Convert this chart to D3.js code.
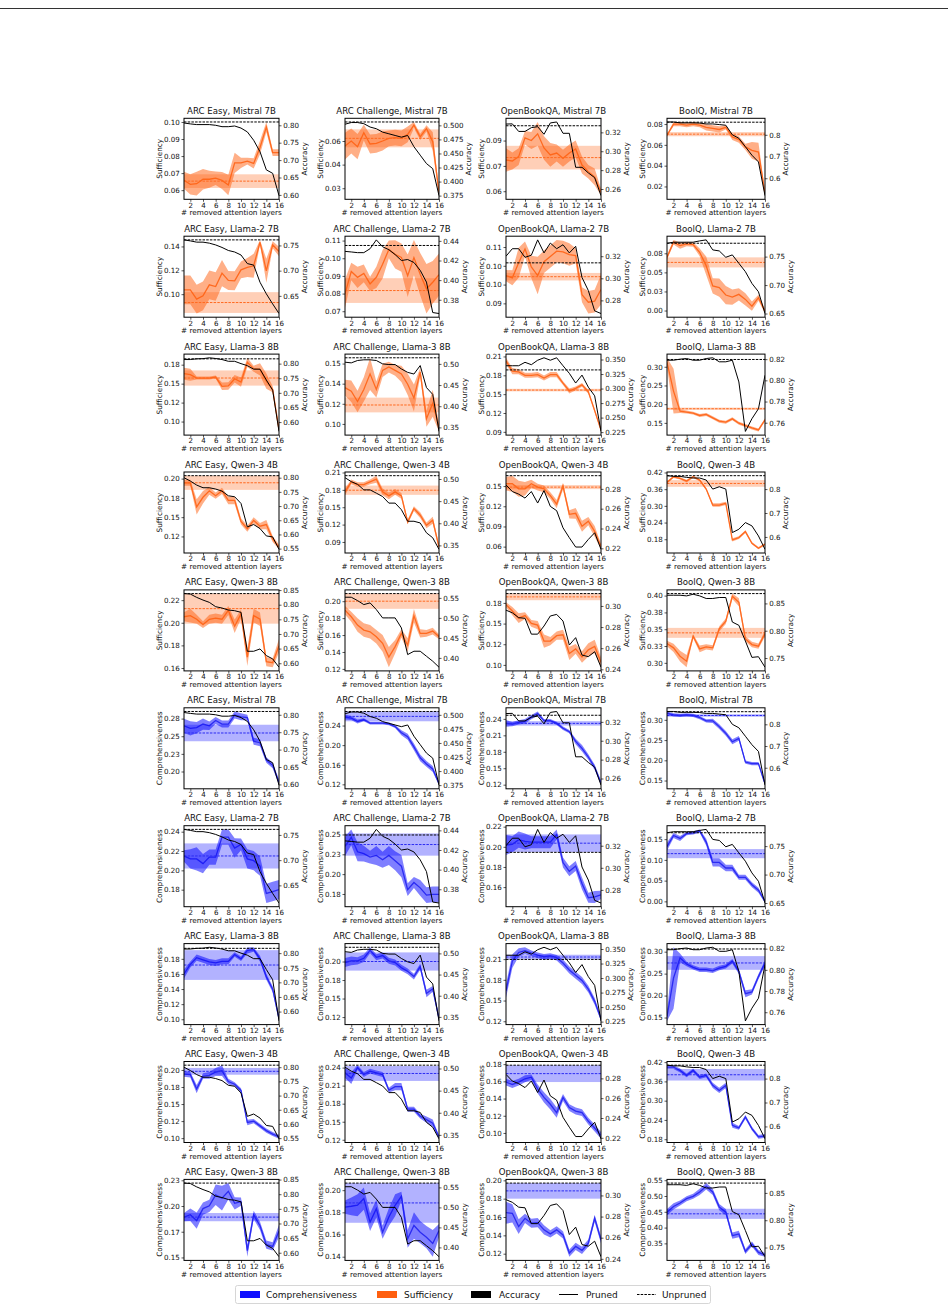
<!DOCTYPE html>
<html lang="en">
<head>
<meta charset="UTF-8">
<title>Pruned attention layers: sufficiency, comprehensiveness and accuracy</title>
<script src="https://d3js.org/d3.v7.min.js"></script>
<style>
  body { margin: 0; background: #fff; }
  svg { display: block; font-family: 'DejaVu Sans', sans-serif; }
  .tick text { font-family: 'DejaVu Sans', sans-serif; font-size: 7.1px; fill: #111; }
  .tick line { stroke: #111; stroke-width: 0.7; }
  .domain { display: none; }
  .title { font-size: 8.6px; fill: #111; text-anchor: middle; }
  .alabel { font-size: 7.3px; fill: #111; text-anchor: middle; }
  .legend text { font-size: 9px; fill: #111; }
</style>
</head>
<body>
<script>
const datasets = ["ARC Easy", "ARC Challenge", "OpenBookQA", "BoolQ"];
const models = ["Mistral 7B", "Llama-2 7B", "Llama-3 8B", "Qwen-3 4B", "Qwen-3 8B"];
const layers = d3.range(1, 17);
const xTicks = [2, 4, 6, 8, 10, 12, 14, 16];

// accuracy of the pruned model (one list per dataset) and of the unpruned model
const accMistral = [
  [0.8066, 0.804, 0.802, 0.802, 0.802, 0.80, 0.796, 0.796, 0.798, 0.792, 0.781, 0.757, 0.724, 0.672, 0.662, 0.598],
  [0.502, 0.505, 0.505, 0.503, 0.497, 0.494, 0.488, 0.485, 0.482, 0.479, 0.482, 0.462, 0.447, 0.432, 0.423, 0.375],
  [0.3288, 0.329, 0.321, 0.321, 0.325, 0.326, 0.318, 0.330, 0.331, 0.319, 0.319, 0.283, 0.283, 0.277, 0.272, 0.253],
  [0.859, 0.859, 0.855, 0.855, 0.855, 0.854, 0.850, 0.850, 0.847, 0.844, 0.80, 0.784, 0.745, 0.706, 0.675, 0.52]
];
const accLlama2 = [
  [0.761, 0.759, 0.7565, 0.7565, 0.7545, 0.751, 0.746, 0.740, 0.737, 0.731, 0.714, 0.711, 0.677, 0.654, 0.634, 0.615],
  [0.4293, 0.4287, 0.428, 0.428, 0.432, 0.441, 0.434, 0.431, 0.426, 0.42, 0.421, 0.418, 0.41, 0.398, 0.367, 0.366],
  [0.32, 0.3268, 0.3268, 0.319, 0.3209, 0.3348, 0.323, 0.3319, 0.3268, 0.3304, 0.323, 0.329, 0.3007, 0.2889, 0.2705, 0.2681],
  [0.7735, 0.7753, 0.7753, 0.7753, 0.7753, 0.7776, 0.7794, 0.7618, 0.76, 0.7488, 0.753, 0.7382, 0.7235, 0.7029, 0.6882, 0.65]
];
const accLlama3 = [
  [0.814, 0.814, 0.8164, 0.817, 0.82, 0.8175, 0.814, 0.808, 0.808, 0.80, 0.793, 0.781, 0.781, 0.744, 0.709, 0.568],
  [0.504, 0.5024, 0.508, 0.5096, 0.5096, 0.508, 0.50, 0.4984, 0.4984, 0.488, 0.48, 0.476, 0.496, 0.444, 0.428, 0.3405],
  [0.3393, 0.3393, 0.3393, 0.3452, 0.3411, 0.3488, 0.353, 0.3488, 0.353, 0.3393, 0.3262, 0.3095, 0.3232, 0.3024, 0.2875, 0.2262],
  [0.819, 0.819, 0.82, 0.8206, 0.819, 0.819, 0.8206, 0.8213, 0.8175, 0.8175, 0.819, 0.7985, 0.7518, 0.7638, 0.7732, 0.8048]
];
const accQwen4 = [
  [0.80, 0.7882, 0.774, 0.7646, 0.7646, 0.76, 0.7528, 0.7363, 0.7328, 0.7092, 0.6267, 0.635, 0.6208, 0.5948, 0.5913, 0.5476],
  [0.503, 0.494, 0.488, 0.4754, 0.4754, 0.468, 0.4604, 0.4455, 0.4455, 0.4306, 0.4045, 0.4045, 0.4007, 0.3784, 0.3672, 0.3411],
  [0.284, 0.2773, 0.2747, 0.2707, 0.2773, 0.2657, 0.2783, 0.2623, 0.258, 0.2407, 0.2307, 0.2213, 0.2213, 0.229, 0.2357, 0.219],
  [0.856, 0.8531, 0.8531, 0.849, 0.8462, 0.8462, 0.8378, 0.80, 0.8098, 0.80, 0.6182, 0.6322, 0.6601, 0.6462, 0.6042, 0.5483]
];
const accQwen8 = [
  [0.838, 0.8364, 0.825, 0.8159, 0.808, 0.7932, 0.7886, 0.7818, 0.7795, 0.7739, 0.6409, 0.6409, 0.6489, 0.6261, 0.6148, 0.5864],
  [0.5517, 0.5517, 0.5433, 0.5333, 0.5375, 0.5208, 0.50, 0.50, 0.50, 0.475, 0.4083, 0.4167, 0.4167, 0.4042, 0.3917, 0.3767],
  [0.296, 0.2935, 0.2889, 0.2883, 0.2733, 0.2733, 0.281, 0.2905, 0.292, 0.2857, 0.263, 0.270, 0.2535, 0.252, 0.2567, 0.242],
  [0.865, 0.865, 0.865, 0.8638, 0.8668, 0.8638, 0.859, 0.859, 0.8608, 0.8608, 0.8159, 0.8099, 0.7811, 0.7512, 0.7524, 0.7332]
];
const accBaseMistral = [0.8095, 0.506, 0.327, 0.858];
const accBaseLlama2 = [0.761, 0.4353, 0.314, 0.7735];
const accBaseLlama3 = [0.8164, 0.5144, 0.3321, 0.8197];
const accBaseQwen4 = [0.8071, 0.5075, 0.2933, 0.856];
const accBaseQwen8 = [0.838, 0.5608, 0.3117, 0.868];

const accTicksMistral = [["0.60", "0.65", "0.70", "0.75", "0.80"], ["0.375", "0.400", "0.425", "0.450", "0.475", "0.500"], ["0.26", "0.28", "0.30", "0.32"], ["0.5", "0.6", "0.7", "0.8"]];
const accTicksLlama2 = [["0.65", "0.70", "0.75"], ["0.38", "0.40", "0.42", "0.44"], ["0.28", "0.30", "0.32"], ["0.65", "0.70", "0.75"]];
const accTicksLlama3 = [["0.60", "0.65", "0.70", "0.75", "0.80"], ["0.35", "0.40", "0.45", "0.50"], ["0.225", "0.250", "0.275", "0.300", "0.325", "0.350"], ["0.76", "0.78", "0.80", "0.82"]];
const accTicksQwen4 = [["0.55", "0.60", "0.65", "0.70", "0.75", "0.80"], ["0.35", "0.40", "0.45", "0.50"], ["0.22", "0.24", "0.26", "0.28"], ["0.6", "0.7", "0.8"]];
const accTicksQwen8 = [["0.60", "0.65", "0.70", "0.75", "0.80", "0.85"], ["0.40", "0.45", "0.50", "0.55"], ["0.24", "0.26", "0.28", "0.30"], ["0.75", "0.80", "0.85"]];

// sufficiency: mean, spread, unpruned [mean, spread], left ticks ("value|label")
const sufMistral = [
  [0.0658, 0.0634, 0.0638, 0.0664, 0.0664, 0.067, 0.0657, 0.063, 0.076, 0.076, 0.077, 0.0757, 0.085, 0.097, 0.082, 0.082],
  [0.0568, 0.06, 0.0564, 0.0653, 0.0581, 0.0585, 0.06, 0.0617, 0.0621, 0.0617, 0.0642, 0.0701, 0.0627, 0.068, 0.0596, 0.027],
  [0.0785, 0.0779, 0.0805, 0.0916, 0.09, 0.094, 0.0856, 0.0815, 0.0826, 0.0795, 0.0826, 0.085, 0.0755, 0.0715, 0.0685, 0.0594],
  [0.0693, 0.080, 0.080, 0.079, 0.080, 0.079, 0.0768, 0.0758, 0.0748, 0.0768, 0.0677, 0.0651, 0.058, 0.0547, 0.0531, 0.0132]
];
const sufErrMistral = [
  [0.005, 0.006, 0.007, 0.006, 0.005, 0.004, 0.005, 0.006, 0.006, 0.003, 0.002, 0.003, 0.004, 0.003, 0.002, 0.002],
  [0.0085, 0.008, 0.008, 0.005, 0.006, 0.006, 0.006, 0.005, 0.005, 0.005, 0.005, 0.002, 0.002, 0.002, 0.006, 0.0017],
  [0.007, 0.005, 0.005, 0.004, 0.005, 0.007, 0.007, 0.007, 0.005, 0.005, 0.005, 0.005, 0.005, 0.004, 0.005, 0.002],
  [0.001, 0.002, 0.002, 0.002, 0.002, 0.002, 0.003, 0.003, 0.003, 0.002, 0.003, 0.003, 0.003, 0.008, 0.009, 0.002]
];
const sufBaseMistral = [[0.0653, 0.004], [0.0617, 0.0057], [0.0799, 0.007], [0.0703, 0.002]];
const sufTicksMistral = [["0.06", "0.07", "0.08", "0.09", "0.10"], ["0.03", "0.045|0.04", "0.06"], ["0.06", "0.075|0.07", "0.09"], ["0.02", "0.04", "0.06", "0.08"]];

const sufLlama2 = [
  [0.1036, 0.1036, 0.0958, 0.0986, 0.1078, 0.1064, 0.1176, 0.1115, 0.1112, 0.1204, 0.1224, 0.1238, 0.1435, 0.1196, 0.1414, 0.1358],
  [0.0799, 0.0925, 0.0892, 0.0914, 0.0855, 0.0892, 0.0966, 0.105, 0.1022, 0.1004, 0.0901, 0.1004, 0.091, 0.0827, 0.0864, 0.0907],
  [0.1024, 0.1018, 0.1058, 0.1095, 0.1047, 0.1024, 0.1061, 0.1075, 0.1089, 0.1087, 0.108, 0.1077, 0.0973, 0.0953, 0.0956, 0.0987],
  [0.0697, 0.0896, 0.0851, 0.0873, 0.0865, 0.0763, 0.0587, 0.0322, 0.03, 0.0203, 0.0176, 0.0212, 0.0146, 0.0057, 0.0168, -0.0009]
];
const sufErrLlama2 = [
  [0.012, 0.012, 0.012, 0.012, 0.012, 0.012, 0.011, 0.008, 0.008, 0.007, 0.008, 0.01, 0.002, 0.01, 0.003, 0.004],
  [0.008, 0.005, 0.006, 0.005, 0.004, 0.006, 0.008, 0.005, 0.008, 0.008, 0.012, 0.01, 0.012, 0.014, 0.012, 0.012],
  [0.0015, 0.002, 0.004, 0.002, 0.003, 0.005, 0.003, 0.003, 0.003, 0.003, 0.003, 0.002, 0.002, 0.003, 0.003, 0.004],
  [0.003, 0.003, 0.004, 0.003, 0.003, 0.005, 0.012, 0.01, 0.012, 0.012, 0.01, 0.008, 0.008, 0.006, 0.004, 0.003]
];
const sufBaseLlama2 = [[0.093, 0.0087], [0.0817, 0.007], [0.1021, 0.001], [0.0631, 0.0066]];
const sufTicksLlama2 = [["0.10", "0.12", "0.14"], ["0.07", "0.08", "0.09", "0.10", "0.11"], ["0.095|0.09", "0.10", "0.105|0.10", "0.11"], ["0.00", "0.025|0.03", "0.05", "0.075|0.08"]];

const sufLlama3 = [
  [0.1631, 0.1618, 0.1574, 0.1574, 0.1574, 0.1587, 0.1465, 0.147, 0.1565, 0.152, 0.1781, 0.1697, 0.1688, 0.1534, 0.1425, 0.089],
  [0.132, 0.1294, 0.1217, 0.1307, 0.1423, 0.1307, 0.1449, 0.1474, 0.1449, 0.1423, 0.1346, 0.1243, 0.1436, 0.1088, 0.1204, 0.1024],
  [0.2029, 0.1865, 0.1855, 0.18, 0.18, 0.1811, 0.1756, 0.1811, 0.1811, 0.1675, 0.155, 0.1593, 0.1647, 0.1538, 0.1238, 0.0927],
  [0.312, 0.235, 0.1815, 0.1788, 0.1761, 0.1698, 0.1725, 0.1635, 0.1546, 0.1519, 0.1608, 0.1491, 0.1429, 0.1366, 0.1312, 0.1582]
];
const sufErrLlama3 = [
  [0.008, 0.008, 0.002, 0.002, 0.002, 0.002, 0.005, 0.005, 0.005, 0.006, 0.006, 0.004, 0.008, 0.01, 0.004, 0.002],
  [0.006, 0.008, 0.008, 0.009, 0.012, 0.006, 0.005, 0.004, 0.004, 0.006, 0.008, 0.01, 0.003, 0.006, 0.01, 0.003],
  [0.005, 0.005, 0.004, 0.004, 0.004, 0.004, 0.004, 0.004, 0.004, 0.003, 0.004, 0.003, 0.003, 0.003, 0.003, 0.002],
  [0.012, 0.06, 0.005, 0.004, 0.004, 0.004, 0.004, 0.004, 0.004, 0.004, 0.004, 0.004, 0.004, 0.004, 0.004, 0.004]
];
const sufBaseLlama3 = [[0.1574, 0.01], [0.1191, 0.0055], [0.1565, 0.002], [0.1878, 0.003]];
const sufTicksLlama3 = [["0.10", "0.125|0.12", "0.15", "0.175|0.18"], ["0.105|0.10", "0.12", "0.135|0.14", "0.15"], ["0.09", "0.12", "0.15", "0.18", "0.21"], ["0.15", "0.20", "0.25", "0.30"]];

const sufQwen4 = [
  [0.1946, 0.1946, 0.1633, 0.1758, 0.1842, 0.1779, 0.1842, 0.1717, 0.1717, 0.1446, 0.135, 0.1458, 0.1383, 0.1404, 0.1217, 0.1113],
  [0.1765, 0.1938, 0.1892, 0.1892, 0.1938, 0.1985, 0.1765, 0.1696, 0.1765, 0.1696, 0.1246, 0.1477, 0.1362, 0.1188, 0.1275, 0.0813],
  [0.1535, 0.1535, 0.146, 0.146, 0.1535, 0.1485, 0.146, 0.1358, 0.1232, 0.15, 0.108, 0.1095, 0.0903, 0.0979, 0.0827, 0.06],
  [0.3842, 0.4045, 0.3985, 0.389, 0.4045, 0.3925, 0.3603, 0.303, 0.303, 0.309, 0.1776, 0.186, 0.2075, 0.1657, 0.1478, 0.1621]
];
const sufErrQwen4 = [
  [0.004, 0.004, 0.01, 0.008, 0.005, 0.004, 0.004, 0.005, 0.005, 0.004, 0.004, 0.004, 0.004, 0.006, 0.004, 0.003],
  [0.006, 0.004, 0.004, 0.004, 0.004, 0.006, 0.006, 0.006, 0.005, 0.005, 0.004, 0.004, 0.005, 0.005, 0.006, 0.004],
  [0.01, 0.012, 0.012, 0.01, 0.006, 0.005, 0.005, 0.005, 0.006, 0.005, 0.006, 0.008, 0.008, 0.006, 0.008, 0.004],
  [0.004, 0.004, 0.004, 0.005, 0.004, 0.004, 0.004, 0.006, 0.006, 0.006, 0.006, 0.005, 0.005, 0.004, 0.004, 0.004]
];
const sufBaseQwen4 = [[0.1946, 0.0092], [0.1794, 0.008], [0.1485, 0.003], [0.3806, 0.012]];
const sufTicksQwen4 = [["0.125|0.12", "0.15", "0.175|0.18", "0.20"], ["0.09", "0.12", "0.15", "0.18", "0.21"], ["0.06", "0.09", "0.12", "0.15"], ["0.18", "0.24", "0.30", "0.36", "0.42"]];

const sufQwen8 = [
  [0.2053, 0.2063, 0.2031, 0.1984, 0.2031, 0.2041, 0.2031, 0.2109, 0.1969, 0.2078, 0.1697, 0.2063, 0.2031, 0.1656, 0.1647, 0.1797],
  [0.1894, 0.1816, 0.1718, 0.1659, 0.1639, 0.158, 0.1502, 0.134, 0.1463, 0.162, 0.1482, 0.1827, 0.162, 0.162, 0.1647, 0.158],
  [0.1729, 0.1652, 0.1566, 0.1596, 0.1502, 0.1481, 0.1288, 0.1288, 0.1353, 0.1365, 0.1139, 0.1194, 0.1096, 0.1182, 0.1224, 0.1032],
  [0.3287, 0.3223, 0.3099, 0.3025, 0.3396, 0.3208, 0.3238, 0.3223, 0.3505, 0.3619, 0.399, 0.3901, 0.3356, 0.3272, 0.3248, 0.3436]
];
const sufErrQwen8 = [
  [0.004, 0.006, 0.004, 0.003, 0.004, 0.004, 0.004, 0.004, 0.006, 0.004, 0.008, 0.006, 0.006, 0.004, 0.004, 0.006],
  [0.005, 0.006, 0.008, 0.008, 0.008, 0.008, 0.01, 0.012, 0.008, 0.005, 0.008, 0.008, 0.005, 0.004, 0.004, 0.003],
  [0.003, 0.005, 0.006, 0.004, 0.004, 0.005, 0.008, 0.005, 0.005, 0.006, 0.008, 0.006, 0.007, 0.008, 0.008, 0.006],
  [0.004, 0.006, 0.008, 0.009, 0.003, 0.005, 0.004, 0.004, 0.004, 0.004, 0.004, 0.006, 0.004, 0.004, 0.004, 0.004]
];
const sufBaseQwen8 = [[0.2125, 0.0133], [0.20, 0.009], [0.1823, 0.004], [0.3446, 0.0074]];
const sufTicksQwen8 = [["0.16", "0.18", "0.20", "0.22"], ["0.12", "0.14", "0.16", "0.18", "0.20"], ["0.10", "0.125|0.12", "0.15", "0.175|0.18"], ["0.30", "0.325|0.33", "0.35", "0.375|0.38", "0.40"]];

// comprehensiveness
const cmpMistral = [
  [0.2648, 0.2612, 0.2622, 0.2673, 0.2648, 0.2724, 0.2673, 0.2673, 0.2801, 0.2776, 0.2765, 0.2429, 0.2408, 0.2163, 0.2087, 0.1847],
  [0.2573, 0.2553, 0.2483, 0.2518, 0.2449, 0.2449, 0.2449, 0.2435, 0.2379, 0.2254, 0.2171, 0.1965, 0.1741, 0.1617, 0.1513, 0.1214],
  [0.2318, 0.2305, 0.2337, 0.2356, 0.2432, 0.2495, 0.2368, 0.2368, 0.2318, 0.2229, 0.2166, 0.1989, 0.1863, 0.1705, 0.1516, 0.1232],
  [0.3167, 0.3125, 0.3108, 0.3125, 0.3108, 0.3058, 0.2975, 0.2975, 0.2833, 0.2667, 0.2458, 0.2542, 0.1958, 0.1917, 0.1917, 0.1417]
];
const cmpErrMistral = [
  [0.01, 0.01, 0.008, 0.008, 0.006, 0.005, 0.005, 0.005, 0.005, 0.005, 0.004, 0.005, 0.005, 0.004, 0.004, 0.004],
  [0.005, 0.004, 0.004, 0.003, 0.003, 0.003, 0.003, 0.003, 0.003, 0.005, 0.006, 0.007, 0.007, 0.006, 0.006, 0.003],
  [0.006, 0.004, 0.004, 0.004, 0.004, 0.004, 0.003, 0.003, 0.003, 0.003, 0.003, 0.005, 0.006, 0.005, 0.005, 0.004],
  [0.004, 0.004, 0.004, 0.004, 0.004, 0.004, 0.004, 0.005, 0.006, 0.006, 0.006, 0.006, 0.004, 0.004, 0.004, 0.003]
];
const cmpBaseMistral = [[0.2546, 0.0117], [0.2587, 0.01], [0.2318, 0.004], [0.3108, 0.003]];
const cmpTicksMistral = [["0.175|0.18", "0.20", "0.225|0.23", "0.25", "0.275|0.28"], ["0.12", "0.16", "0.20", "0.24"], ["0.12", "0.15", "0.18", "0.21", "0.24"], ["0.15", "0.20", "0.25", "0.30"]];

const cmpLlama2 = [
  [0.2149, 0.2119, 0.2119, 0.207, 0.2137, 0.2137, 0.2344, 0.2344, 0.2231, 0.2269, 0.2119, 0.21, 0.2044, 0.1762, 0.1781, 0.18],
  [0.235, 0.2464, 0.2282, 0.2259, 0.2214, 0.2236, 0.2182, 0.2236, 0.2168, 0.21, 0.1805, 0.1895, 0.1827, 0.1736, 0.1745, 0.1745],
  [0.2018, 0.2025, 0.2071, 0.2053, 0.2046, 0.2046, 0.2046, 0.2046, 0.2123, 0.1844, 0.1757, 0.1809, 0.1635, 0.1495, 0.1502, 0.1523],
  [0.1321, 0.1589, 0.1518, 0.1634, 0.1652, 0.1696, 0.1429, 0.0938, 0.0938, 0.0804, 0.0804, 0.058, 0.058, 0.0402, 0.0268, 0.0]
];
const cmpErrLlama2 = [
  [0.006, 0.01, 0.012, 0.01, 0.008, 0.008, 0.008, 0.008, 0.01, 0.006, 0.01, 0.01, 0.01, 0.01, 0.01, 0.01],
  [0.012, 0.01, 0.012, 0.01, 0.008, 0.012, 0.01, 0.012, 0.012, 0.014, 0.008, 0.007, 0.01, 0.01, 0.01, 0.01],
  [0.01, 0.008, 0.008, 0.008, 0.006, 0.006, 0.006, 0.006, 0.005, 0.005, 0.005, 0.005, 0.006, 0.005, 0.006, 0.004],
  [0.01, 0.006, 0.006, 0.004, 0.004, 0.004, 0.008, 0.01, 0.01, 0.008, 0.008, 0.006, 0.006, 0.006, 0.006, 0.004]
];
const cmpBaseLlama2 = [[0.2149, 0.013], [0.2373, 0.014], [0.2036, 0.0087], [0.1151, 0.011]];
const cmpTicksLlama2 = [["0.18", "0.20", "0.22", "0.24"], ["0.175|0.18", "0.20", "0.225|0.23", "0.25"], ["0.16", "0.18", "0.20", "0.22"], ["0.00", "0.05", "0.10", "0.15"]];

const cmpLlama3 = [
  [0.16, 0.1726, 0.1816, 0.1787, 0.1759, 0.1746, 0.1767, 0.1767, 0.1857, 0.18, 0.1911, 0.1923, 0.18, 0.1562, 0.1398, 0.1008],
  [0.1986, 0.2009, 0.2009, 0.2043, 0.2152, 0.2057, 0.2081, 0.2009, 0.1986, 0.1915, 0.1867, 0.1796, 0.1929, 0.1569, 0.1631, 0.1228],
  [0.164, 0.207, 0.2196, 0.2221, 0.2186, 0.2156, 0.2135, 0.2146, 0.212, 0.2044, 0.1943, 0.1867, 0.1791, 0.1665, 0.1488, 0.1235],
  [0.1523, 0.24, 0.286, 0.272, 0.2642, 0.2588, 0.2588, 0.2565, 0.2627, 0.2666, 0.2782, 0.2549, 0.2044, 0.2083, 0.2432, 0.2743]
];
const cmpErrLlama3 = [
  [0.006, 0.004, 0.004, 0.004, 0.004, 0.004, 0.004, 0.004, 0.003, 0.003, 0.004, 0.003, 0.004, 0.004, 0.004, 0.003],
  [0.006, 0.006, 0.005, 0.005, 0.004, 0.004, 0.004, 0.004, 0.004, 0.004, 0.004, 0.004, 0.004, 0.005, 0.004, 0.003],
  [0.01, 0.01, 0.006, 0.005, 0.004, 0.004, 0.004, 0.004, 0.004, 0.005, 0.005, 0.005, 0.005, 0.005, 0.005, 0.003],
  [0.01, 0.07, 0.01, 0.005, 0.005, 0.005, 0.005, 0.005, 0.005, 0.005, 0.005, 0.006, 0.008, 0.006, 0.006, 0.006]
];
const cmpBaseLlama3 = [[0.1718, 0.0197], [0.20, 0.0123], [0.213, 0.0033], [0.2743, 0.0156]];
const cmpTicksLlama3 = [["0.10", "0.12", "0.14", "0.16", "0.18"], ["0.125|0.12", "0.15", "0.175|0.18", "0.20", "0.225|0.23"], ["0.12", "0.15", "0.18", "0.21"], ["0.15", "0.20", "0.25", "0.30"]];

const cmpQwen4 = [
  [0.194, 0.193, 0.172, 0.191, 0.192, 0.197, 0.199, 0.183, 0.179, 0.170, 0.123, 0.125, 0.118, 0.111, 0.106, 0.102],
  [0.2313, 0.2227, 0.24, 0.2285, 0.2342, 0.2313, 0.2285, 0.2025, 0.2083, 0.2083, 0.1708, 0.1708, 0.1592, 0.1535, 0.1477, 0.1246],
  [0.1591, 0.1564, 0.1591, 0.163, 0.1649, 0.1512, 0.1413, 0.1334, 0.1236, 0.1413, 0.1295, 0.1255, 0.1236, 0.1137, 0.1058, 0.0972],
  [0.4045, 0.4045, 0.3941, 0.3786, 0.3941, 0.3734, 0.3786, 0.3476, 0.332, 0.3476, 0.2234, 0.2152, 0.2493, 0.2131, 0.1872, 0.1903]
];
const cmpErrQwen4 = [
  [0.004, 0.004, 0.006, 0.004, 0.005, 0.006, 0.008, 0.004, 0.003, 0.003, 0.004, 0.003, 0.003, 0.003, 0.003, 0.003],
  [0.008, 0.01, 0.004, 0.004, 0.004, 0.004, 0.004, 0.004, 0.006, 0.006, 0.004, 0.004, 0.004, 0.005, 0.006, 0.003],
  [0.004, 0.004, 0.004, 0.004, 0.003, 0.005, 0.006, 0.006, 0.006, 0.004, 0.004, 0.004, 0.004, 0.004, 0.004, 0.004],
  [0.006, 0.006, 0.006, 0.006, 0.006, 0.006, 0.006, 0.008, 0.008, 0.008, 0.008, 0.006, 0.006, 0.006, 0.006, 0.006]
];
const cmpBaseQwen4 = [[0.198, 0.005], [0.2302, 0.0124], [0.169, 0.0098], [0.3807, 0.018]];
const cmpTicksQwen4 = [["0.10", "0.125|0.12", "0.15", "0.175|0.18", "0.20"], ["0.12", "0.15", "0.18", "0.21", "0.24"], ["0.10", "0.12", "0.14", "0.16", "0.18"], ["0.18", "0.24", "0.30", "0.36", "0.42"]];

const cmpQwen8 = [
  [0.1892, 0.1915, 0.1858, 0.1975, 0.2002, 0.2109, 0.2076, 0.2143, 0.2026, 0.2043, 0.1567, 0.1915, 0.1808, 0.1624, 0.1607, 0.1758],
  [0.1848, 0.1855, 0.1864, 0.1924, 0.1712, 0.1833, 0.1621, 0.1758, 0.1864, 0.1945, 0.1561, 0.1682, 0.1621, 0.1576, 0.152, 0.1636],
  [0.1647, 0.164, 0.1496, 0.1586, 0.1532, 0.1539, 0.146, 0.1416, 0.146, 0.1405, 0.1207, 0.1279, 0.1236, 0.1315, 0.1586, 0.1351],
  [0.4489, 0.467, 0.4777, 0.4915, 0.499, 0.5128, 0.5309, 0.5128, 0.4649, 0.4489, 0.3745, 0.3798, 0.3245, 0.3479, 0.3213, 0.3138]
];
const cmpErrQwen8 = [
  [0.004, 0.006, 0.008, 0.006, 0.006, 0.01, 0.012, 0.008, 0.006, 0.004, 0.006, 0.004, 0.004, 0.004, 0.004, 0.006],
  [0.006, 0.008, 0.01, 0.01, 0.008, 0.008, 0.006, 0.008, 0.01, 0.004, 0.008, 0.012, 0.01, 0.01, 0.012, 0.006],
  [0.012, 0.01, 0.008, 0.005, 0.005, 0.005, 0.005, 0.004, 0.004, 0.004, 0.004, 0.004, 0.004, 0.004, 0.004, 0.004],
  [0.01, 0.01, 0.008, 0.008, 0.008, 0.01, 0.01, 0.01, 0.01, 0.01, 0.01, 0.01, 0.008, 0.008, 0.008, 0.006]
];
const cmpBaseQwen8 = [[0.1892, 0.004], [0.1885, 0.0179], [0.1885, 0.0085], [0.4436, 0.016]];
const cmpTicksQwen8 = [["0.15", "0.175|0.17", "0.20", "0.225|0.23"], ["0.14", "0.16", "0.18", "0.20"], ["0.12", "0.14", "0.16", "0.18", "0.20"], ["0.35", "0.40", "0.45", "0.50", "0.55"]];

// ---- grouping by model ----
const acc = [accMistral, accLlama2, accLlama3, accQwen4, accQwen8];
const accBase = [accBaseMistral, accBaseLlama2, accBaseLlama3, accBaseQwen4, accBaseQwen8];
const accTicks = [accTicksMistral, accTicksLlama2, accTicksLlama3, accTicksQwen4, accTicksQwen8];
const metrics = [
  { name: "Sufficiency", line: "#ff6a20", fill: "#ff5f0f",
    val: [sufMistral, sufLlama2, sufLlama3, sufQwen4, sufQwen8],
    err: [sufErrMistral, sufErrLlama2, sufErrLlama3, sufErrQwen4, sufErrQwen8],
    base: [sufBaseMistral, sufBaseLlama2, sufBaseLlama3, sufBaseQwen4, sufBaseQwen8],
    ticks: [sufTicksMistral, sufTicksLlama2, sufTicksLlama3, sufTicksQwen4, sufTicksQwen8] },
  { name: "Comprehensiveness", line: "#2b2bf2", fill: "#0000ff",
    val: [cmpMistral, cmpLlama2, cmpLlama3, cmpQwen4, cmpQwen8],
    err: [cmpErrMistral, cmpErrLlama2, cmpErrLlama3, cmpErrQwen4, cmpErrQwen8],
    base: [cmpBaseMistral, cmpBaseLlama2, cmpBaseLlama3, cmpBaseQwen4, cmpBaseQwen8],
    ticks: [cmpTicksMistral, cmpTicksLlama2, cmpTicksLlama3, cmpTicksQwen4, cmpTicksQwen8] }
];

// ---- layout ----
const colLeft = [184, 345, 506, 667], colW = [95, 94, 95, 98];
const top0 = 118.3, pitch = 117.9, plotH = 81;
const dash = "2.5,1.2";

const svg = d3.select("body").append("svg").attr("width", 948).attr("height", 1310);
svg.append("line").attr("x1", 0).attr("x2", 948).attr("y1", 8.5).attr("y2", 8.5)
  .attr("stroke", "#333").attr("stroke-width", 1);

const parseTick = s => { const p = s.split("|"); return { v: +p[0], l: p[1] || p[0] }; };
const padded = (lo, hi) => { const p = (hi - lo) * 0.05; return [lo - p, hi + p]; };

metrics.forEach((m, mi) => {
  models.forEach((model, k) => {
    const r = mi * 5 + k;
    datasets.forEach((ds, c) => {
      const w = colW[c], h = plotH;
      const vals = m.val[k][c], errs = m.err[k][c], base = m.base[k][c];
      const a = acc[k][c], aBase = accBase[k][c];

      const lo = Math.min(d3.min(vals, (v, i) => v - errs[i]), base[0] - base[1]);
      const hi = Math.max(d3.max(vals, (v, i) => v + errs[i]), base[0] + base[1]);
      const x = d3.scaleLinear().domain([1, 16]).range([0, w]);
      const yL = d3.scaleLinear().domain(padded(lo, hi)).range([h, 0]);
      const yR = d3.scaleLinear().domain(padded(Math.min(d3.min(a), aBase), Math.max(d3.max(a), aBase))).range([h, 0]);

      const g = svg.append("g").attr("transform", `translate(${colLeft[c]},${top0 + r * pitch})`);
      const cid = `clip-${r}-${c}`;
      g.append("clipPath").attr("id", cid).append("rect").attr("width", w).attr("height", h);
      const plot = g.append("g").attr("clip-path", `url(#${cid})`);

      const pts = layers.map((l, i) => ({ l, v: vals[i], e: errs[i], a: a[i] }));
      plot.append("path").datum(pts)
        .attr("d", d3.area().x(d => x(d.l)).y0(d => yL(d.v - d.e)).y1(d => yL(d.v + d.e)))
        .attr("fill", m.fill).attr("fill-opacity", 0.5);
      plot.append("path").datum(pts)
        .attr("d", d3.line().x(d => x(d.l)).y(d => yL(d.v)))
        .attr("fill", "none").attr("stroke", m.line).attr("stroke-width", 1.3);
      plot.append("rect").attr("x", x(1)).attr("width", x(16) - x(1))
        .attr("y", yL(base[0] + base[1])).attr("height", yL(base[0] - base[1]) - yL(base[0] + base[1]))
        .attr("fill", m.fill).attr("fill-opacity", 0.3);
      plot.append("line").attr("x1", x(1)).attr("x2", x(16)).attr("y1", yL(base[0])).attr("y2", yL(base[0]))
        .attr("stroke", m.line).attr("stroke-width", 1).attr("stroke-dasharray", dash);

      plot.append("path").datum(pts)
        .attr("d", d3.line().x(d => x(d.l)).y(d => yR(d.a)))
        .attr("fill", "none").attr("stroke", "#000").attr("stroke-width", 1);
      plot.append("line").attr("x1", x(1)).attr("x2", x(16)).attr("y1", yR(aBase)).attr("y2", yR(aBase))
        .attr("stroke", "#000").attr("stroke-width", 1).attr("stroke-dasharray", dash);

      // axes
      const lt = m.ticks[k][c].map(parseTick).filter(t => t.v >= yL.domain()[0] && t.v <= yL.domain()[1]);
      const lAx = g.append("g").call(d3.axisLeft(yL).tickValues(lt.map(t => t.v))
        .tickFormat((d, i) => lt[i].l).tickSize(2.5).tickPadding(1.8));
      const rt = accTicks[k][c].map(parseTick).filter(t => t.v >= yR.domain()[0] && t.v <= yR.domain()[1]);
      const rAx = g.append("g").attr("transform", `translate(${w},0)`)
        .call(d3.axisRight(yR).tickValues(rt.map(t => t.v))
        .tickFormat((d, i) => rt[i].l).tickSize(2.5).tickPadding(1.8));
      g.append("g").attr("transform", `translate(0,${h})`)
        .call(d3.axisBottom(x).tickValues(xTicks).tickFormat(d3.format("d")).tickSize(2.5).tickPadding(0.8));

      g.append("rect").attr("width", w).attr("height", h)
        .attr("fill", "none").attr("stroke", "#000").attr("stroke-width", 1);

      g.append("text").attr("class", "title").attr("x", w / 2).attr("y", -4.5).text(`${ds}, ${model}`);
      g.append("text").attr("class", "alabel").attr("x", w / 2).attr("y", h + 16.2).text("# removed attention layers");
      const lw = lAx.node().getBBox().width;
      g.append("text").attr("class", "alabel")
        .attr("transform", `translate(${-lw - 1.5},${h / 2}) rotate(-90)`).text(m.name);
      const rw = rAx.node().getBBox().width;
      g.append("text").attr("class", "alabel")
        .attr("transform", `translate(${w + rw + 7},${h / 2}) rotate(-90)`).text("Accuracy");
    });
  });
});

// ---- legend ----
const lg = svg.append("g").attr("class", "legend");
lg.append("rect").attr("x", 235.5).attr("y", 1285.5).attr("width", 475).attr("height", 18).attr("rx", 2)
  .attr("fill", "#fff").attr("stroke", "#ccc").attr("stroke-width", 0.8);
const legendItems = [
  { type: "patch", color: "#1010ff", x: 240, tx: 266, label: "Comprehensiveness" },
  { type: "patch", color: "#ff5f0f", x: 377, tx: 404, label: "Sufficiency" },
  { type: "patch", color: "#000", x: 471, tx: 499, label: "Accuracy" },
  { type: "line", dash: null, x: 559, tx: 586, label: "Pruned" },
  { type: "line", dash: dash, x: 637, tx: 662, label: "Unpruned" }
];
legendItems.forEach(it => {
  if (it.type === "patch") {
    lg.append("rect").attr("x", it.x).attr("y", 1291).attr("width", 20).attr("height", 7).attr("fill", it.color);
  } else {
    lg.append("line").attr("x1", it.x).attr("x2", it.x + 19).attr("y1", 1294.5).attr("y2", 1294.5)
      .attr("stroke", "#000").attr("stroke-width", 1).attr("stroke-dasharray", it.dash);
  }
  lg.append("text").attr("x", it.tx).attr("y", 1297.8).text(it.label);
});
</script>
</body>
</html>
